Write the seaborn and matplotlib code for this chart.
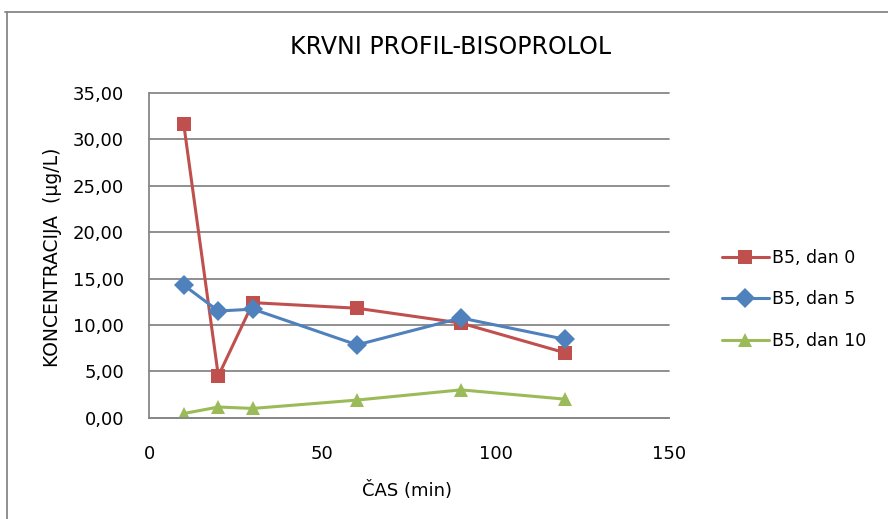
import matplotlib
matplotlib.use("Agg")
import matplotlib.pyplot as plt
import matplotlib.lines as mlines
import seaborn as sns
import pandas as pd

time_min = [10, 20, 30, 60, 90, 120]
series_names = ["B5, dan 0", "B5, dan 5", "B5, dan 10"]
dan0 = [31.7, 4.5, 12.4, 11.8, 10.2, 7.0]
dan5 = [14.3, 11.5, 11.7, 7.85, 10.75, 8.45]
dan10 = [0.45, 1.15, 1.0, 1.9, 3.0, 2.0]
y_ticks = [0, 5, 10, 15, 20, 25, 30, 35]
x_ticks = [0, 50, 100, 150]
colors = ["#C0504D", "#4F81BD", "#9BBB59"]
markers = ["s", "D", "^"]

rows = []
for name, vals in zip(series_names, [dan0, dan5, dan10]):
    for t, v in zip(time_min, vals):
        rows.append({"t": t, "c": v, "series": name})
df = pd.DataFrame(rows)

sns.set_style("white")
plt.rcParams["text.color"] = "#000000"
W, H = 888, 519
fig = plt.figure(figsize=(W / 100, H / 100), dpi=100)
ax = fig.add_axes([149 / W, 1 - 417.7 / H, (669 - 149) / W, (417.7 - 93) / H])

sns.lineplot(data=df, x="t", y="c", hue="series", style="series",
             hue_order=series_names, style_order=series_names,
             palette=colors, markers=markers, dashes=False,
             markersize=10.5, linewidth=2.2, markeredgewidth=0,
             legend=False, ax=ax, sort=False)

gray = "#878787"
ax.set_xlim(0, 150)
ax.set_ylim(0, 35)
ax.set_xticks(x_ticks)
ax.set_yticks(y_ticks)
ax.set_yticklabels([f"{v:.2f}".replace(".", ",") for v in y_ticks])
ax.set_xticklabels([str(v) for v in x_ticks])
ax.yaxis.grid(True, color=gray, linewidth=1.3)
ax.xaxis.grid(False)
for gl in ax.get_ygridlines():
    gl.set_clip_on(False)
ax.set_axisbelow(True)
for s in ["top", "right"]:
    ax.spines[s].set_visible(False)
for s in ["left", "bottom"]:
    ax.spines[s].set_color(gray)
    ax.spines[s].set_linewidth(1.3)
ax.tick_params(axis="both", which="both", direction="out", length=6, width=1.3,
               color=gray, labelsize=13, labelcolor="#000000")
ax.tick_params(axis="y", pad=12)
ax.tick_params(axis="x", pad=14)
for lab in ax.get_xticklabels() + ax.get_yticklabels():
    lab.set_family(["DejaVu Sans"])

ax.set_xlabel("")
ax.set_ylabel("")
fig.text(407 / W, 1 - 491 / H, "ČAS (min)", ha="center", va="center",
         fontsize=13, family=["DejaVu Sans"])
fig.text(53 / W, 1 - 257 / H, "KONCENTRACIJA  (µg/L)", ha="center", va="center",
         rotation=90, fontsize=13.5, family=["DejaVu Sans"])
fig.text(451 / W, 1 - 47 / H, "KRVNI PROFIL-BISOPROLOL", ha="center", va="center",
         fontsize=17, family=["DejaVu Sans"])

handles = [mlines.Line2D([], [], color=c, marker=m, markersize=10.5, linewidth=2.2,
                         markeredgewidth=0) for c, m in zip(colors, markers)]
leg = fig.legend(handles, series_names, loc="upper left",
                 bbox_to_anchor=(715 / W, 1 - 242 / H), frameon=False,
                 fontsize=12.5, handlelength=2.7, handletextpad=0.2,
                 labelspacing=1.35, borderaxespad=0)
for t in leg.get_texts():
    t.set_family(["DejaVu Sans"])

fig.add_artist(mlines.Line2D([5 / W, 1], [1 - 12 / H, 1 - 12 / H], color=gray,
                             linewidth=1.3, transform=fig.transFigure))
fig.add_artist(mlines.Line2D([7 / W, 7 / W], [0, 1 - 12 / H], color=gray,
                             linewidth=1.3, transform=fig.transFigure))

fig.savefig("out.png", dpi=100)
